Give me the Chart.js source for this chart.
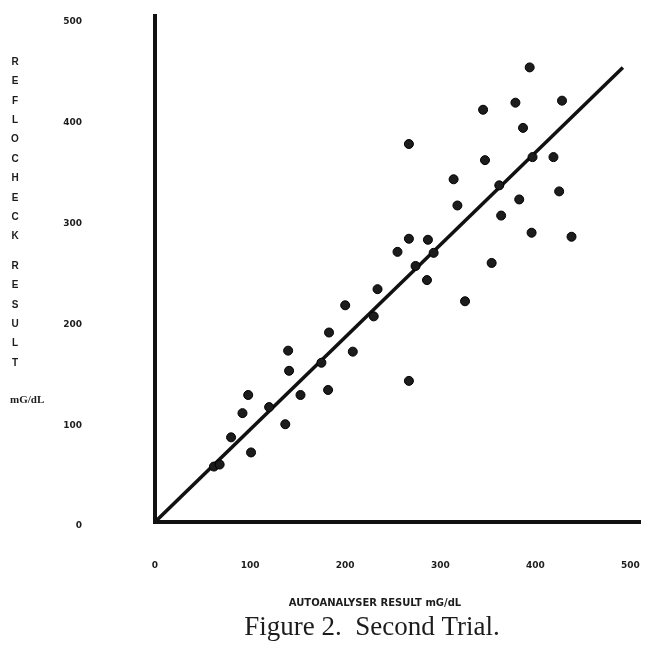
<!DOCTYPE html>
<html>
<head>
<meta charset="utf-8">
<title>Figure 2. Second Trial.</title>
<script src="https://cdn.jsdelivr.net/npm/chart.js@4.4.1/dist/chart.umd.min.js"></script>
<style>
  body { margin: 0; background: #fff; }
  #wrap { width: 650px; height: 650px; }
</style>
</head>
<body>
<div id="wrap"><canvas id="trialChart" width="650" height="650"></canvas></div>
<script>
// autoanalyser (x) vs reflocheck (y), mG/dL
const autoanalyser = [394, 345, 379, 428, 387, 267, 347, 397, 419, 314, 362, 318, 383, 425, 364,
                      396, 438, 267, 287, 255, 293, 274, 286, 354, 326, 234, 200, 230, 183, 208,
                      140, 141, 175, 267, 182, 153, 98, 92, 120, 137, 80, 101, 62, 68];
const reflocheck   = [451, 409, 416, 418, 391, 375, 359, 362, 362, 340, 334, 314, 320, 328, 304,
                      287, 283, 281, 280, 268, 267, 254, 240, 257, 219, 231, 215, 204, 188, 169,
                      170, 150, 158, 140, 131, 126, 126, 108, 114, 97, 84, 69, 55, 57];

// fitted line, drawn from origin
const fitX = [0, 492];
const fitY = [0, 451];

const xTicks = [0, 100, 200, 300, 400, 500];
const yTicks = [0, 100, 200, 300, 400, 500];

const yTitleLetters = ["R", "E", "F", "L", "O", "C", "H", "E", "C", "K", "", "R", "E", "S", "U", "L", "T"];
const yTitleUnit = "mG/dL";
const xTitle = "AUTOANALYSER RESULT mG/dL";
const caption = "Figure 2.  Second Trial.";

const ink = "#1c1c1c";

// tick padding should not push the plot area around
function noScalePadding(s) {
    s.paddingTop = 0;
    s.paddingBottom = 0;
    s.paddingLeft = 0;
    s.paddingRight = 0;
}

const textPlugin = {
    id: "figureText",
    afterDraw(chart) {
        const ctx = chart.ctx;
        ctx.save();
        ctx.fillStyle = ink;
        ctx.textAlign = "center";
        ctx.textBaseline = "middle";

        // stacked y title on the left
        ctx.font = "bold 10px 'Liberation Sans'";
        let y = 62;
        yTitleLetters.forEach(ch => {
            if (ch) ctx.fillText(ch, 15, y);
            y += ch ? 19.4 : 10;
        });
        ctx.font = "bold 11px 'Liberation Serif'";
        ctx.textAlign = "left";
        ctx.fillText(yTitleUnit, 10, 400);

        // x title and caption
        ctx.textAlign = "center";
        ctx.font = "bold 10px 'DejaVu Sans'";
        ctx.fillText(xTitle, 375, 603);
        ctx.font = "27px 'Liberation Serif'";
        ctx.fillText(caption, 372, 628);
        ctx.restore();
    }
};

const ctx = document.getElementById("trialChart").getContext("2d");

new Chart(ctx, {
    type: "scatter",
    data: {
        datasets: [
            {
                label: "Results",
                data: autoanalyser.map((x, i) => ({ x: x, y: reflocheck[i] })),
                pointRadius: 4.5,
                pointBackgroundColor: ink,
                pointBorderColor: "#000",
                pointBorderWidth: 1
            },
            {
                type: "line",
                label: "Fit",
                data: fitX.map((x, i) => ({ x: x, y: fitY[i] })),
                borderColor: "#111",
                borderWidth: 3.5,
                pointRadius: 0,
                fill: false
            }
        ]
    },
    options: {
        responsive: false,
        animation: false,
        devicePixelRatio: 1,
        layout: {
            padding: { top: 16, right: 10, left: 0, bottom: 0 }
        },
        scales: {
            x: {
                type: "linear",
                min: 0,
                max: 510,
                afterBuildTicks: s => { s.ticks = xTicks.map(v => ({ value: v })); },
                afterFit: s => { s.height = 128; noScalePadding(s); },
                grid: { display: false },
                border: { display: true, color: "#111", width: 4 },
                ticks: {
                    padding: 30,
                    color: ink,
                    font: { family: "DejaVu Sans", size: 9, weight: "bold" }
                }
            },
            y: {
                type: "linear",
                min: 0,
                max: 502,
                afterBuildTicks: s => { s.ticks = yTicks.map(v => ({ value: v })); },
                afterFit: s => { s.width = 155; noScalePadding(s); },
                grid: { display: false },
                border: { display: true, color: "#111", width: 4 },
                ticks: {
                    padding: 65,
                    labelOffset: 4,
                    color: ink,
                    font: { family: "DejaVu Sans", size: 9, weight: "bold" }
                }
            }
        },
        plugins: {
            legend: { display: false },
            tooltip: { enabled: false },
            title: { display: false }
        }
    },
    plugins: [textPlugin]
});
</script>
</body>
</html>
